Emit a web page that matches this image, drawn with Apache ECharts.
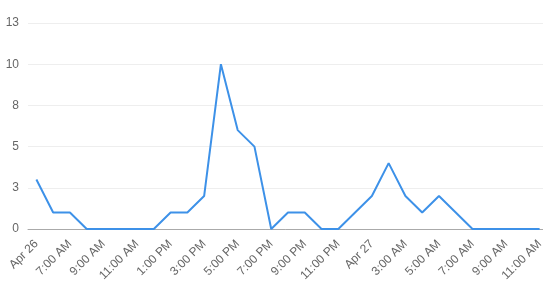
<!DOCTYPE html>
<html><head><meta charset="utf-8">
<script src="https://cdn.jsdelivr.net/npm/echarts@6/dist/echarts.min.js"></script>
<style>html,body{margin:0;padding:0;background:#fff}#c{width:543px;height:289px}</style>
</head><body><div id="c"></div>
<script>
const categories = ["Apr 26","6:00 AM","7:00 AM","8:00 AM","9:00 AM","10:00 AM","11:00 AM","12:00 PM","1:00 PM","2:00 PM","3:00 PM","4:00 PM","5:00 PM","6:00 PM","7:00 PM","8:00 PM","9:00 PM","10:00 PM","11:00 PM","12:00 AM","Apr 27","2:00 AM","3:00 AM","4:00 AM","5:00 AM","6:00 AM","7:00 AM","8:00 AM","9:00 AM","10:00 AM","11:00 AM"];
const values = [3,1,1,0,0,0,0,0,1,1,2,10,6,5,0,1,1,0,0,1,2,4,2,1,2,1,0,0,0,0,0];
const chart = echarts.init(document.getElementById('c'));
chart.setOption({
  animation:false,
  grid:{left:28,width:520,top:23,height:206,containLabel:false,outerBoundsMode:'none'},
  xAxis:{type:'category',data:categories,boundaryGap:true,
    axisLine:{lineStyle:{color:'#aaa'}},
    axisTick:{interval:1,alignWithLabel:true,length:4,lineStyle:{color:'#aaa'}},
    axisLabel:{interval:1,rotate:45,color:'#666',fontSize:12,fontFamily:'Arial, Liberation Sans',margin:13}},
  yAxis:{type:'value',min:0,max:12.5,interval:2.5,
    axisLine:{show:false},axisTick:{show:false},
    splitLine:{lineStyle:{color:'#eee'}},
    axisLabel:{color:'#666',fontSize:12,fontFamily:'Arial, Liberation Sans',margin:9,formatter:v=>Math.round(v)}},
  series:[{type:'line',data:values,symbol:'none',lineStyle:{color:'#3d91e8',width:2}}]
});
</script></body></html>
